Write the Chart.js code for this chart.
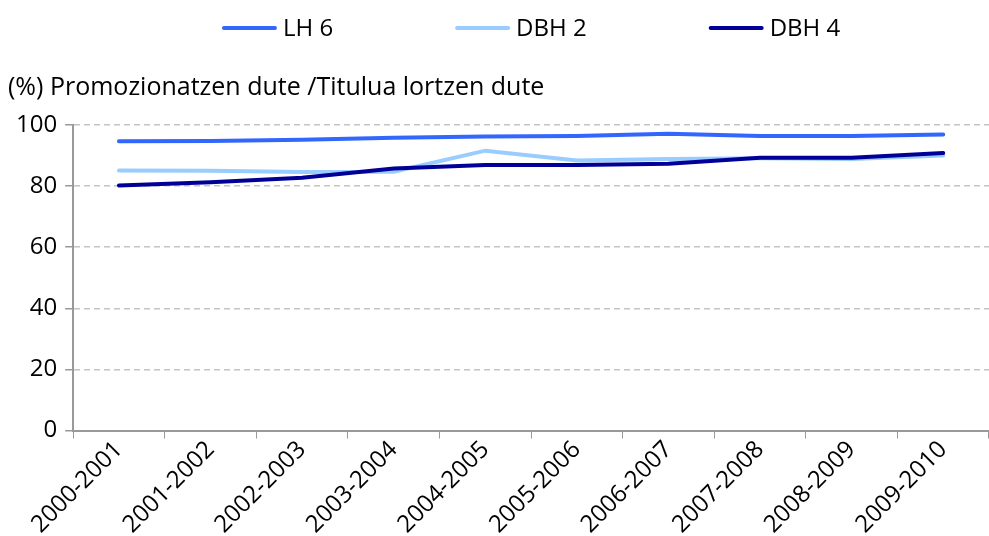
<!DOCTYPE html>
<html>
<head>
<meta charset="utf-8">
<script src="https://cdn.jsdelivr.net/npm/chart.js@4"></script>
<style>
  body { margin: 0; background: #fff; }
</style>
</head>
<body>
<canvas id="myChart" width="989" height="536"></canvas>
<script>
const years = ['2000-2001','2001-2002','2002-2003','2003-2004','2004-2005','2005-2006','2006-2007','2007-2008','2008-2009','2009-2010']
const lh6 = [94.7, 94.8, 95.2, 95.8, 96.2, 96.4, 97.1, 96.4, 96.4, 96.9]
const dbh2 = [85.1, 85.0, 84.6, 84.7, 91.6, 88.4, 88.9, 89.1, 88.9, 90.0]
const dbh4 = [80.2, 81.3, 82.7, 85.8, 86.9, 86.9, 87.3, 89.3, 89.3, 90.8]
const yTicks = [0, 20, 40, 60, 80, 100]

const FAMILY = "'Open Sans', sans-serif"
const font = { family: FAMILY, size: 24 }

// legend drawn by hand: the built-in one uses the same padding for gaps and height
const topLegend = {
  id: 'topLegend',
  afterDraw(chart) {
    const c = chart.ctx
    const sw = 55, gapText = 6, gapItem = 122, y = 28
    c.save()
    c.font = '24px ' + FAMILY
    c.textBaseline = 'middle'
    const items = chart.data.datasets.map(d => ({ d, w: sw + gapText + c.measureText(d.label).width }))
    const total = items.reduce((s, it) => s + it.w, 0) + gapItem * (items.length - 1)
    let x = (chart.chartArea.left + chart.chartArea.right) / 2 - total / 2
    items.forEach(it => {
      c.strokeStyle = it.d.borderColor
      c.lineWidth = 4
      c.lineCap = 'round'
      c.beginPath()
      c.moveTo(x + 2, y)
      c.lineTo(x + sw - 2, y)
      c.stroke()
      c.fillStyle = '#000'
      c.fillText(it.d.label, x + sw + gapText, y + 1)
      x += it.w + gapItem
    })
    c.restore()
  }
}

const ctx = document.getElementById('myChart');

new Chart(ctx, {
  type: 'line',
  data: {
    labels: years,
    datasets: [
      { label: 'LH 6', data: lh6, borderColor: '#3366FF', backgroundColor: '#3366FF', order: 2 },
      { label: 'DBH 2', data: dbh2, borderColor: '#99CCFF', backgroundColor: '#99CCFF', order: 1 },
      { label: 'DBH 4', data: dbh4, borderColor: '#000099', backgroundColor: '#000099', order: 0 }
    ]
  },
  plugins: [topLegend],
  options: {
    responsive: false,
    animation: false,
    elements: {
      line: { borderWidth: 4, tension: 0, borderCapStyle: 'round' },
      point: { radius: 0 }
    },
    layout: { padding: { left: 8, right: 0, top: 60, bottom: 0 } },
    plugins: {
      legend: { display: false },
      title: {
        display: true,
        text: '(%) Promozionatzen dute /Titulua lortzen dute',
        align: 'start',
        color: '#000',
        font: { family: FAMILY, size: 25, weight: 'normal' },
        padding: { top: 13, bottom: 22 }
      },
      tooltip: { enabled: false }
    },
    scales: {
      x: {
        offset: true,
        grid: { drawOnChartArea: false, color: '#999', tickLength: 8, offset: true },
        border: { color: '#999', width: 2 },
        ticks: { font: font, color: '#000', minRotation: 45, maxRotation: 45, padding: -3 }
      },
      y: {
        min: 0,
        max: 100,
        afterBuildTicks: axis => { axis.ticks = yTicks.map(v => ({ value: v })) },
        grid: { color: '#c4c4c4', lineWidth: 1.5, tickLength: 8, tickColor: '#999', tickBorderDash: [] },
        border: { color: '#999', width: 2, dash: [6, 4] },
        ticks: { font: font, color: '#000', padding: 8 }
      }
    }
  }
});
</script>
</body>
</html>
